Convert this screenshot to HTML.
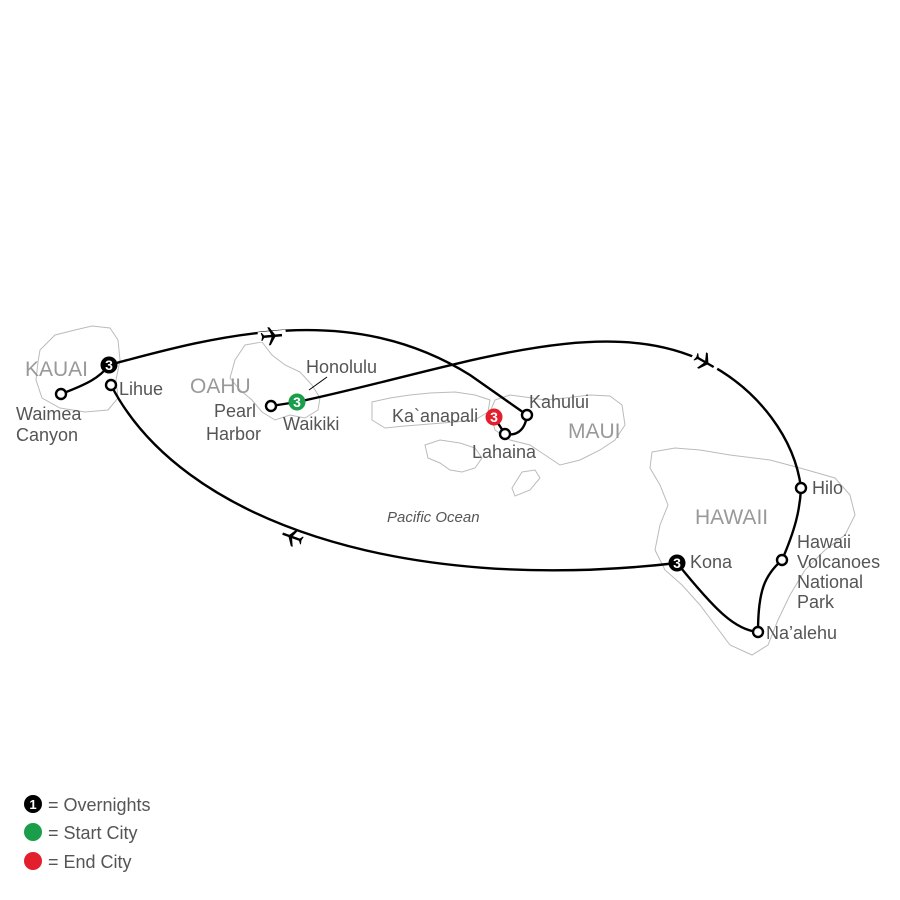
<!DOCTYPE html>
<html><head><style>
body{margin:0;background:#fff}
svg{display:block}
text{font-family:"Liberation Sans",Arial,sans-serif}
.lb{font-size:18px;fill:#555}
.is{font-size:21px;fill:#999}
.ol{fill:none;stroke:#bbb;stroke-width:1}
.rt{fill:none;stroke:#000;stroke-width:2.4}
.nd{fill:#fff;stroke:#000;stroke-width:2.4}
</style></head><body>
<svg width="900" height="900" viewBox="0 0 900 900">
<path class="ol" d="M40,350 L55,335 L75,330 L92,326 L110,328 L118,340 L120,360 L116,380 L118,398 L108,410 L85,412 L60,408 L42,398 L36,380 L38,362 Z"/>
<path class="ol" d="M235,360 L245,345 L262,342 L272,355 L285,365 L300,372 L312,385 L320,398 L318,410 L305,418 L290,415 L275,420 L262,412 L252,400 L240,390 L230,378 Z"/>
<path class="ol" d="M372,402 L390,398 L410,395 L430,393 L455,392 L475,395 L490,400 L488,412 L475,420 L455,422 L430,424 L405,426 L385,428 L372,420 Z"/>
<path class="ol" d="M495,400 L510,395 L525,397 L545,400 L565,398 L590,395 L610,396 L622,405 L625,425 L615,440 L600,450 L580,460 L560,465 L545,455 L530,445 L510,440 L495,430 L490,412 Z"/>
<path class="ol" d="M425,445 L440,440 L460,443 L475,448 L482,458 L475,468 L462,472 L450,470 L440,463 L428,458 Z"/>
<path class="ol" d="M522,472 L535,470 L540,478 L530,490 L515,496 L512,488 Z"/>
<path class="ol" d="M652,452 L675,448 L700,450 L730,455 L770,460 L800,468 L835,478 L850,495 L855,515 L845,535 L825,550 L805,570 L790,595 L778,620 L768,645 L752,655 L730,645 L715,625 L700,605 L682,585 L665,570 L655,550 L660,525 L668,505 L660,485 L650,468 Z"/>
<path class="rt" d="M109,365 C220,335 350,300 470,375 L527,415"/>
<path class="rt" d="M297,402 C450,370 600,310 705,362 C760,390 795,440 801,488"/>
<path class="rt" d="M111,385 C180,520 400,595 677,563"/>
<path class="rt" d="M677,563 C715,610 735,630 758,632"/>
<path class="rt" d="M758,632 C758,590 765,575 782,560"/>
<path class="rt" d="M782,560 C795,530 800,510 801,488"/>
<path class="rt" d="M61,394 C85,385 100,378 109,365"/>
<path class="rt" d="M271,406 L297,402"/>
<path class="rt" d="M527,415 C525,432 515,436 505,434 L494,417"/>
<line x1="309" y1="390" x2="327" y2="377" stroke="#000" stroke-width="1"/>
<g transform="translate(272,336) rotate(-5)"><rect x="-14" y="-5" width="28" height="10" fill="#fff"/><path d="M-10,0 L10,0" stroke="#000" stroke-width="2.4"/><path d="M4,0 L-2,-9 L-4,-9 L0,0 L-4,9 L-2,9 Z M-7,0 L-10,-4 L-11,-4 L-10,0 L-11,4 L-10,4 Z" fill="#000"/></g>
<g transform="translate(705,362) rotate(30)"><rect x="-14" y="-5" width="28" height="10" fill="#fff"/><path d="M-10,0 L10,0" stroke="#000" stroke-width="2.4"/><path d="M4,0 L-2,-9 L-4,-9 L0,0 L-4,9 L-2,9 Z M-7,0 L-10,-4 L-11,-4 L-10,0 L-11,4 L-10,4 Z" fill="#000"/></g>
<g transform="translate(292,537) rotate(200)"><rect x="-14" y="-5" width="28" height="10" fill="#fff"/><path d="M-10,0 L10,0" stroke="#000" stroke-width="2.4"/><path d="M4,0 L-2,-9 L-4,-9 L0,0 L-4,9 L-2,9 Z M-7,0 L-10,-4 L-11,-4 L-10,0 L-11,4 L-10,4 Z" fill="#000"/></g>
<circle class="nd" cx="61" cy="394" r="5"/>
<circle class="nd" cx="111" cy="385" r="5"/>
<circle class="nd" cx="271" cy="406" r="5"/>
<circle class="nd" cx="527" cy="415" r="5"/>
<circle class="nd" cx="505" cy="434" r="5"/>
<circle class="nd" cx="801" cy="488" r="5"/>
<circle class="nd" cx="782" cy="560" r="5"/>
<circle class="nd" cx="758" cy="632" r="5"/>
<g text-anchor="middle">
<circle cx="109" cy="365" r="8.5" fill="#000"/><text x="109" y="370" fill="#fff" font-size="14" font-weight="bold">3</text>
<circle cx="297" cy="402" r="8.5" fill="#1a9e4a"/><text x="297" y="407" fill="#fff" font-size="14" font-weight="bold">3</text>
<circle cx="494" cy="417" r="8.5" fill="#e31e2d"/><text x="494" y="422" fill="#fff" font-size="14" font-weight="bold">3</text>
<circle cx="677" cy="563" r="8.5" fill="#000"/><text x="677" y="568" fill="#fff" font-size="14" font-weight="bold">3</text>
</g>
<text class="is" x="25" y="376">KAUAI</text>
<text class="is" x="190" y="393">OAHU</text>
<text class="is" x="568" y="438">MAUI</text>
<text class="is" x="695" y="524">HAWAII</text>
<text class="lb" x="16" y="420">Waimea</text>
<text class="lb" x="16" y="441">Canyon</text>
<text class="lb" x="119" y="395">Lihue</text>
<text class="lb" x="306" y="373">Honolulu</text>
<text class="lb" x="214" y="417">Pearl</text>
<text class="lb" x="206" y="440">Harbor</text>
<text class="lb" x="283" y="430">Waikiki</text>
<text class="lb" x="392" y="422">Ka`anapali</text>
<text class="lb" x="529" y="408">Kahului</text>
<text class="lb" x="472" y="458">Lahaina</text>
<text x="387" y="522" font-size="15" font-style="italic" fill="#555">Pacific Ocean</text>
<text class="lb" x="812" y="494">Hilo</text>
<text class="lb" x="797" y="548">Hawaii</text>
<text class="lb" x="797" y="568">Volcanoes</text>
<text class="lb" x="797" y="588">National</text>
<text class="lb" x="797" y="608">Park</text>
<text class="lb" x="690" y="568">Kona</text>
<text class="lb" x="766" y="639">Na’alehu</text>
<circle cx="33" cy="804" r="9" fill="#000"/><text x="33" y="809" fill="#fff" font-size="13" font-weight="bold" text-anchor="middle">1</text>
<text class="lb" x="48" y="811">= Overnights</text>
<circle cx="33" cy="832" r="9" fill="#1a9e4a"/>
<text class="lb" x="48" y="839">= Start City</text>
<circle cx="33" cy="861" r="9" fill="#e31e2d"/>
<text class="lb" x="48" y="868">= End City</text>
</svg>
</body></html>
